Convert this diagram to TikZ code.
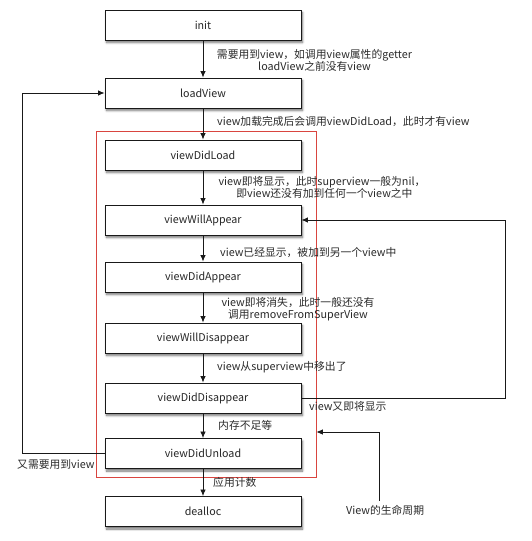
\documentclass[tikz,border=0pt]{standalone}
\usepackage{fontspec}
\setmainfont{Noto Sans CJK SC}
\usetikzlibrary{arrows.meta,shadows.blur}
\definecolor{txt}{HTML}{2A2A2A}
\definecolor{redline}{HTML}{D9453F}
\begin{document}
\begin{tikzpicture}[x=1pt,y=-1pt,
  stagebox/.style={draw=black!90,line width=0.9pt,fill=white,minimum width=196pt,minimum height=30pt,inner sep=0pt,
    font=\fontsize{10.7}{12}\selectfont,text=black!85,
    blur shadow={shadow xshift=1.5pt,shadow yshift=-2.5pt,shadow blur steps=6,shadow opacity=55}},
  lbl/.style={font=\fontsize{10.8}{12}\selectfont,text=txt,inner sep=0pt},
  arr/.style={draw=black!90,line width=0.8pt,-{Latex[length=6.5pt,width=5.5pt]}},
  link/.style={draw=black!80,line width=0.8pt}]
\useasboundingbox (0,0) rectangle (532,541);
\node[draw=redline,line width=0.7pt,minimum width=220pt,minimum height=346pt,inner sep=0pt] (cycle) at (206,304) {};
\node[stagebox] (init) at (203,25) {init};
\node[stagebox] (load) at (203,93) {loadView};
\node[stagebox] (didload) at (203,155) {viewDidLoad};
\node[stagebox] (willapp) at (203,220) {viewWillAppear};
\node[stagebox] (didapp) at (203,277) {viewDidAppear};
\node[stagebox] (willdis) at (203,338) {viewWillDisappear};
\node[stagebox] (diddis) at (203,398) {viewDidDisappear};
\node[stagebox] (unload) at (203,453.5) {viewDidUnload};
\node[stagebox] (dealloc) at (203,511.5) {dealloc};
\draw[arr] (init) -- (load);
\draw[arr] (load) -- (didload);
\draw[arr] (didload) -- (willapp);
\draw[arr] (willapp) -- (didapp);
\draw[arr] (didapp) -- (willdis);
\draw[arr] (willdis) -- (diddis);
\draw[arr] (diddis) -- (unload);
\draw[arr] (unload) -- (dealloc);
\node[lbl,align=center] (l1) at (314.5,60) {需要用到view，如调用view属性的getter\\loadView之前没有view};
\node[lbl,anchor=west] (l2) at (217,121) {view加载完成后会调用viewDidLoad，此时才有view};
\node[lbl,align=center] (l3) at (322,187.5) {view即将显示，此时superview一般为nil，\\\ \ 即view还没有加到任何一个view之中};
\node[lbl,anchor=west] (l4) at (220,253) {view已经显示，被加到另一个view中};
\node[lbl,align=center] (l5) at (298,309) {view即将消失，此时一般还没有\\调用removeFromSuperView};
\node[lbl,anchor=west] (l6) at (217,367) {view从superview中移出了};
\node[lbl,anchor=west] (l7) at (309,406) {view又即将显示};
\node[lbl,anchor=west] (l8) at (218,425) {内存不足等};
\node[lbl,anchor=west] (l9) at (213,482) {应用计数};
\node[lbl,anchor=west] (l10) at (17,465) {又需要用到view};
\node[lbl,anchor=west] (l11) at (346,510) {View的生命周期};
\coordinate (lx) at (22,0);
\coordinate (rx) at (505,0);
\coordinate (lcturn) at (379,432);
\draw[arr] (unload.west) -- (unload.west -| lx) |- (load.west);
\draw[arr] (diddis.east) -- (diddis.east -| rx) |- (willapp.east);
\draw[arr] (l11.north -| lcturn) ++(0,-4) -- (lcturn) -- (lcturn -| cycle.east);
\end{tikzpicture}
\end{document}
